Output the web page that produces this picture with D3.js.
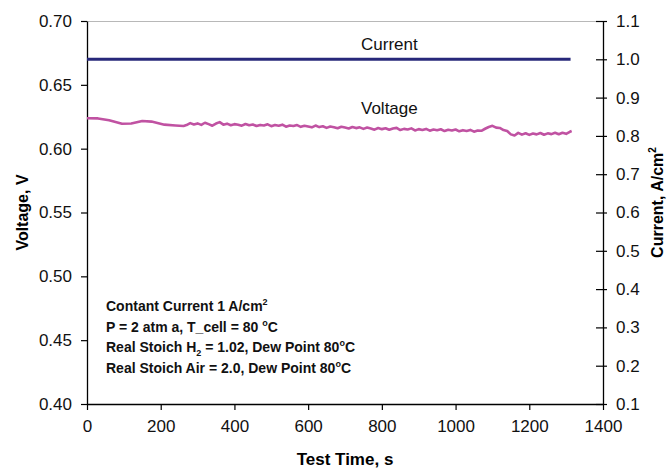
<!DOCTYPE html>
<html>
<head>
<meta charset="utf-8">
<script src="https://cdn.jsdelivr.net/npm/d3@7/dist/d3.min.js"></script>
<style>
html,body{margin:0;padding:0;background:#fff;}
svg{display:block;font-family:"Liberation Sans",Arial,sans-serif;}
</style>
</head>
<body>
<svg id="chart" width="671" height="470"></svg>
<script>
// ---- data ----
const xTicks = [0, 200, 400, 600, 800, 1000, 1200, 1400];
const voltTicks = [0.40, 0.45, 0.50, 0.55, 0.60, 0.65, 0.70];
const currTicks = [0.1, 0.2, 0.3, 0.4, 0.5, 0.6, 0.7, 0.8, 0.9, 1.0, 1.1];

const currentTime = [0, 300, 600, 900, 1200, 1312];
const currentValue = [1.0, 1.0, 1.0, 1.0, 1.0, 1.0];

const voltageTime = [0, 30, 60, 95, 120, 150, 175, 210, 240, 262,
  270, 280, 290, 300, 310, 320, 330, 340, 350, 360, 370, 380, 390, 400, 410, 420, 430, 440, 450, 460,
  470, 480, 490, 500, 510, 520, 530, 540, 550, 560, 570, 580, 590, 600, 610, 620, 630, 640, 650, 660,
  670, 680, 690, 700, 710, 720, 730, 740, 750, 760, 770, 780, 790, 800, 810, 820, 830, 840, 850, 860,
  870, 880, 890, 900, 910, 920, 930, 940, 950, 960, 970, 980, 990, 1000, 1010, 1020, 1030, 1040, 1050, 1060,
  1070, 1080, 1090, 1100, 1110, 1120, 1130, 1140, 1150, 1160, 1170, 1180, 1190, 1200, 1210, 1220, 1230, 1240, 1250, 1260,
  1270, 1280, 1290, 1300, 1310, 1315];
const voltageValue = [0.6238, 0.6237, 0.6222, 0.6195, 0.6197, 0.6217, 0.6212, 0.6188, 0.6182, 0.6178,
  0.6185, 0.6200, 0.6189, 0.6198, 0.6186, 0.6203, 0.6192, 0.6180, 0.6197, 0.6208, 0.6188, 0.6196, 0.6184, 0.6192, 0.6188, 0.6180, 0.6193, 0.6183, 0.6189, 0.6177,
  0.6186, 0.6182, 0.6191, 0.6176, 0.6185, 0.6179, 0.6188, 0.6172, 0.6181, 0.6177, 0.6185, 0.6171, 0.6180, 0.6174, 0.6167, 0.6181, 0.6169, 0.6176, 0.6163, 0.6173,
  0.6168, 0.6160, 0.6172, 0.6165, 0.6158, 0.6170, 0.6161, 0.6167, 0.6155, 0.6165, 0.6158, 0.6149, 0.6162, 0.6153, 0.6160, 0.6148, 0.6158, 0.6163, 0.6146, 0.6155,
  0.6150, 0.6159, 0.6143, 0.6153, 0.6147, 0.6155, 0.6141, 0.6150, 0.6144, 0.6152, 0.6138, 0.6148, 0.6142, 0.6150, 0.6136, 0.6145, 0.6139, 0.6147, 0.6133, 0.6142,
  0.6140, 0.6156, 0.6170, 0.6179, 0.6165, 0.6162, 0.6146, 0.6138, 0.6112, 0.6103, 0.6124, 0.6110, 0.6121, 0.6108, 0.6119, 0.6112, 0.6123, 0.6109, 0.6120, 0.6114,
  0.6125, 0.6113, 0.6124, 0.6116, 0.6132, 0.6138];

// ---- layout ----
const L = 87, R = 603, T = 21, B = 404;
const svg = d3.select("#chart");

const x = d3.scaleLinear().domain([0, 1400]).range([L, R]);
const yV = d3.scaleLinear().domain([0.40, 0.70]).range([B, T]);
const yC = d3.scaleLinear().domain([0.1, 1.1]).range([B, T]);

// top border
svg.append("line").attr("x1", L).attr("x2", R).attr("y1", T + 0.5).attr("y2", T + 0.5)
  .attr("stroke", "#b8b8b8").attr("stroke-width", 1);

// axes
const tickFont = 17;
const gx = svg.append("g").attr("transform", `translate(0,${B})`)
  .call(d3.axisBottom(x).tickValues(xTicks).tickFormat(d3.format("d")).tickSizeInner(6).tickSizeOuter(0).tickPadding(10));
const gl = svg.append("g").attr("transform", `translate(${L},0)`)
  .call(d3.axisLeft(yV).tickValues(voltTicks).tickFormat(d3.format(".2f")).tickSizeInner(6).tickSizeOuter(0).tickPadding(9));
const gr = svg.append("g").attr("transform", `translate(${R},0)`)
  .call(d3.axisRight(yC).tickValues(currTicks).tickFormat(d3.format(".1f")).tickSizeInner(4).tickSizeOuter(0).tickPadding(9));
gr.selectAll(".tick line").attr("x1", -7);

[gx, gl, gr].forEach(g => {
  g.select(".domain").attr("stroke", "#000").attr("stroke-width", 1.3);
  g.selectAll(".tick line").attr("stroke", "#000").attr("stroke-width", 1.2);
  g.selectAll(".tick text").attr("fill", "#111").style("font-size", tickFont + "px")
    .style("font-family", '"Liberation Sans",Arial,sans-serif');
});

// lines
const curLine = d3.line().x((d, i) => x(currentTime[i])).y(d => yC(d));
svg.append("path").datum(currentValue).attr("d", curLine)
  .attr("fill", "none").attr("stroke", "#27287a").attr("stroke-width", 3);

const voltLine = d3.line().x((d, i) => x(voltageTime[i])).y(d => yV(d));
svg.append("path").datum(voltageValue).attr("d", voltLine)
  .attr("fill", "none").attr("stroke", "#c052a2").attr("stroke-width", 2.6).attr("stroke-linejoin", "round");

// series labels
svg.append("text").attr("x", 361).attr("y", 50).text("Current")
  .style("font-size", "17px").attr("fill", "#111");
svg.append("text").attr("x", 361).attr("y", 114).text("Voltage")
  .style("font-size", "17px").attr("fill", "#111");

// axis titles
svg.append("text").attr("x", x(700)).attr("y", 465).attr("text-anchor", "middle")
  .style("font-size", "17px").style("font-weight", "bold").text("Test Time, s");
svg.append("text").attr("transform", `translate(28,${(T + B) / 2}) rotate(-90)`).attr("text-anchor", "middle")
  .style("font-size", "16px").style("font-weight", "bold").text("Voltage, V");
const rt = svg.append("text").attr("transform", `translate(663,${(T + B) / 2 - 10}) rotate(-90)`).attr("text-anchor", "middle")
  .style("font-size", "16px").style("font-weight", "bold");
rt.append("tspan").text("Current, A/cm");
rt.append("tspan").attr("dy", -7).style("font-size", "10px").text("2");

// annotation block
const ann = svg.append("g").style("font-size", "14px").style("font-weight", "bold").attr("fill", "#111");
const a1 = ann.append("text").attr("x", 106).attr("y", 311);
a1.append("tspan").text("Contant Current 1 A/cm");
a1.append("tspan").attr("dy", -6).style("font-size", "9px").text("2");
const a2 = ann.append("text").attr("x", 106).attr("y", 332);
a2.append("tspan").text("P = 2 atm a, T_cell = 80 ");
a2.append("tspan").attr("dy", -6).style("font-size", "9px").text("o");
a2.append("tspan").attr("dy", 6).text("C");
const a3 = ann.append("text").attr("x", 106).attr("y", 352);
a3.append("tspan").text("Real Stoich H");
a3.append("tspan").attr("dy", 4).style("font-size", "9px").text("2");
a3.append("tspan").attr("dy", -4).text(" = 1.02, Dew Point 80");
a3.append("tspan").attr("dy", -6).style("font-size", "9px").text("o");
a3.append("tspan").attr("dy", 6).text("C");
const a4 = ann.append("text").attr("x", 106).attr("y", 373);
a4.append("tspan").text("Real Stoich Air = 2.0, Dew Point 80");
a4.append("tspan").attr("dy", -6).style("font-size", "9px").text("o");
a4.append("tspan").attr("dy", 6).text("C");
</script>
</body>
</html>
